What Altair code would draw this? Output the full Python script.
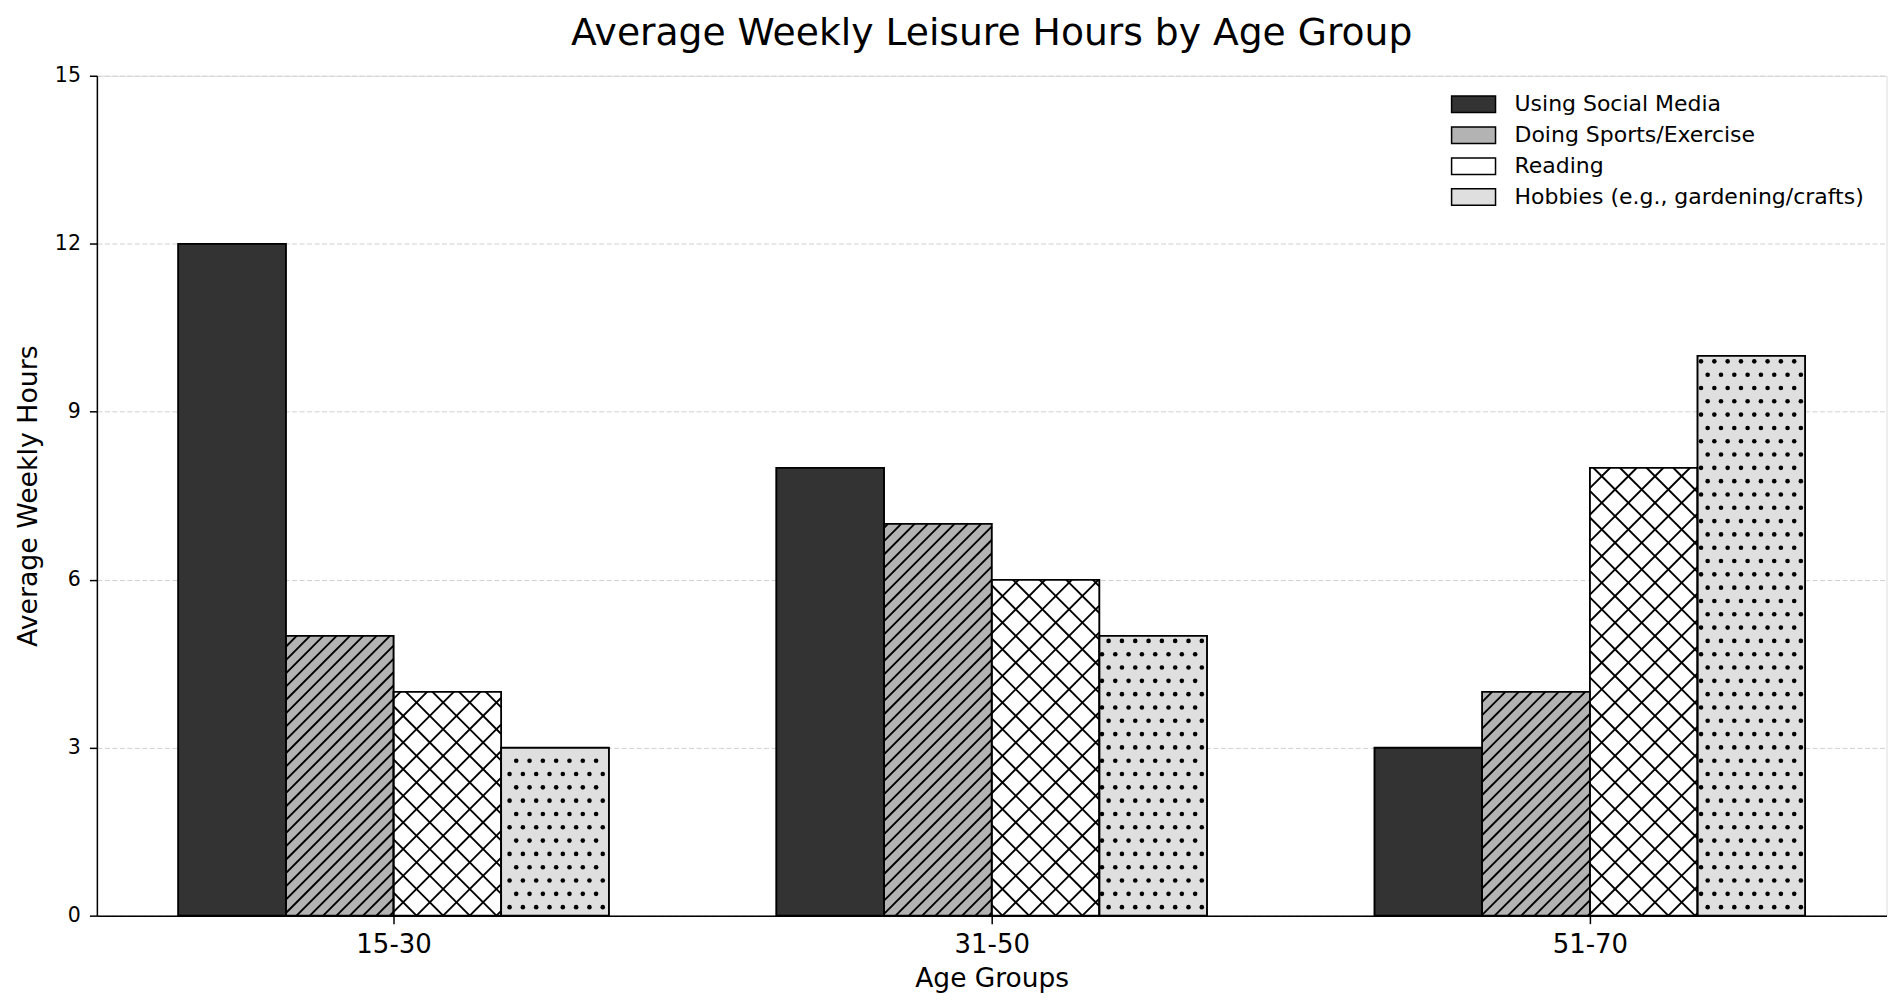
import json
import altair as alt
import pandas as pd

# ---------------- data ----------------
groups = ["15-30", "31-50", "51-70"]
series_names = [
    "Using Social Media",
    "Doing Sports/Exercise",
    "Reading",
    "Hobbies (e.g., gardening/crafts)",
]
social_media = [12, 8, 3]
sports_exercise = [5, 7, 4]
reading = [4, 6, 8]
hobbies = [3, 5, 10]
y_ticks = [0, 3, 6, 9, 12, 15]

fills = ["#333333", "#b3b3b3", "#ffffff", "#dfdfdf"]

rows = []
for si, (name, vals) in enumerate(
    zip(series_names, [social_media, sports_exercise, reading, hobbies])
):
    for gi, (g, v) in enumerate(zip(groups, vals)):
        rows.append({"group": g, "gi": gi, "series": name, "si": si, "value": v})
df = pd.DataFrame(rows)

# ---------------- layout ----------------
W, H = 1792, 841
BW = 0.18
XMIN, XMAX = -0.496, 2.496
YMAX = 15
KX = W / (XMAX - XMIN)
KY = H / YMAX
FONT = "DejaVu Sans"
XTITLE = "Age Groups"
YTITLE = "Average Weekly Hours"
HATCH_W = 1.9

xscale = alt.Scale(domain=[XMIN, XMAX], nice=False, zero=False)
yscale = alt.Scale(domain=[0, YMAX], nice=False, zero=True)

label_expr = json.dumps(groups) + "[datum.value]"

xaxis = alt.Axis(
    values=[0, 1, 2], labelExpr=label_expr, grid=False,
    tickSize=8, tickWidth=1.5, tickColor="black",
    domainColor="black", domainWidth=1.5,
    labelFontSize=26, labelFont=FONT, labelColor="black", labelPadding=7.5,
    titleFontSize=26.5, titleFont=FONT, titleColor="black", titleFontWeight="normal",
    titlePadding=8.5,
)
yaxis = alt.Axis(
    values=y_ticks, format="d", grid=True, gridDash=[5, 2.5], gridColor="#d0d0d0",
    gridWidth=1,
    tickSize=7.5, tickWidth=1.5, tickColor="black",
    domainColor="black", domainWidth=1.5,
    labelFontSize=20.5, labelFont=FONT, labelColor="black", labelPadding=9,
    titleFontSize=26.8, titleFont=FONT, titleColor="black", titleFontWeight="normal",
    titlePadding=12,
)

base = (
    alt.Chart(df)
    .transform_calculate(xc=f"datum.gi + (datum.si - 1.5) * {BW}")
    .transform_calculate(x0=f"datum.xc - {BW / 2}")
    .transform_calculate(x1=f"datum.xc + {BW / 2}")
)

legend = alt.Legend(
    orient="none", legendX=1364, legendY=14, title=None,
    symbolType="M-1.6,-0.6H1.6V0.6H-1.6Z", symbolSize=756,
    symbolStrokeColor="black", symbolStrokeWidth=1.5,
    labelFontSize=22, labelFont=FONT, labelColor="black", labelOffset=26.5,
    labelLimit=600, rowPadding=5, padding=0,
)

bars = base.mark_bar(stroke="black", strokeWidth=1.5).encode(
    x=alt.X("x0:Q", scale=xscale, axis=xaxis, title=XTITLE),
    x2="x1:Q",
    y=alt.Y("value:Q", scale=yscale, axis=yaxis, title=YTITLE),
    y2=alt.datum(0),
    fill=alt.Fill(
        "series:N",
        scale=alt.Scale(domain=series_names, range=fills),
        sort=series_names,
        legend=legend,
    ),
)


def pixel_frame(chart, name):
    return (
        chart.transform_filter(alt.datum.series == name)
        .transform_calculate(px0=f"(datum.x0 - ({XMIN})) * {KX}")
        .transform_calculate(px1=f"(datum.x1 - ({XMIN})) * {KX}")
        .transform_calculate(pv=f"datum.value * {KY}")
    )


def rule_layer(chart):
    return (
        chart.transform_calculate(hx=f"datum.sa / {KX} + ({XMIN})")
        .transform_calculate(hx2=f"datum.sb / {KX} + ({XMIN})")
        .mark_rule(color="black", strokeWidth=HATCH_W)
        .encode(
            x=alt.X("hx:Q", scale=xscale, title=XTITLE),
            x2="hx2:Q",
            y=alt.Y("hy:Q", scale=yscale, title=YTITLE),
            y2="hy2:Q",
        )
    )


def ne_hatch(name, d):
    c = (
        pixel_frame(base, name)
        .transform_calculate(
            k=f"sequence(floor(-datum.px1 / {d}), ceil((datum.pv - datum.px0) / {d}) + 1)"
        )
        .transform_flatten(["k"])
        .transform_calculate(c=f"datum.k * {d}")
        .transform_calculate(sa="max(datum.px0, -datum.c)")
        .transform_calculate(sb="min(datum.px1, datum.pv - datum.c)")
        .transform_filter("datum.sb > datum.sa + 0.5")
        .transform_calculate(hy=f"(datum.sa + datum.c) / {KY}")
        .transform_calculate(hy2=f"(datum.sb + datum.c) / {KY}")
    )
    return rule_layer(c)


def nw_hatch(name, d):
    c = (
        pixel_frame(base, name)
        .transform_calculate(
            k=f"sequence(floor(datum.px0 / {d}), ceil((datum.px1 + datum.pv) / {d}) + 1)"
        )
        .transform_flatten(["k"])
        .transform_calculate(c=f"datum.k * {d}")
        .transform_calculate(sa="max(datum.px0, datum.c - datum.pv)")
        .transform_calculate(sb="min(datum.px1, datum.c)")
        .transform_filter("datum.sb > datum.sa + 0.5")
        .transform_calculate(hy=f"(datum.c - datum.sa) / {KY}")
        .transform_calculate(hy2=f"(datum.c - datum.sb) / {KY}")
    )
    return rule_layer(c)


def dot_hatch(name, dx, dy):
    c = (
        pixel_frame(base, name)
        .transform_calculate(j=f"sequence(0, ceil(datum.pv / {dy}) + 1)")
        .transform_flatten(["j"])
        .transform_calculate(py=f"datum.j * {dy} + 8.5")
        .transform_filter("datum.py < datum.pv - 3")
        .transform_calculate(s=f"(datum.j % 2) * {dx / 2}")
        .transform_calculate(
            i=f"sequence(floor((datum.px0 - datum.s) / {dx}), ceil((datum.px1 - datum.s) / {dx}) + 1)"
        )
        .transform_flatten(["i"])
        .transform_calculate(pxd=f"datum.i * {dx} + datum.s")
        .transform_filter("datum.pxd > datum.px0 + 2.5 && datum.pxd < datum.px1 - 2.5")
        .transform_calculate(dxv=f"datum.pxd / {KX} + ({XMIN})")
        .transform_calculate(dyv=f"datum.py / {KY}")
    )
    return c.mark_circle(size=21, color="black", opacity=1).encode(
        x=alt.X("dxv:Q", scale=xscale, title=XTITLE),
        y=alt.Y("dyv:Q", scale=yscale, title=YTITLE),
    )


sports_hatch = ne_hatch(series_names[1], 13.33)
reading_ne = ne_hatch(series_names[2], 26.67)
reading_nw = nw_hatch(series_names[2], 26.67)
hobby_dots = dot_hatch(series_names[3], 13.33, 13.33)

outlines = base.mark_bar(fillOpacity=0, stroke="black", strokeWidth=1.6).encode(
    x=alt.X("x0:Q", scale=xscale, title=XTITLE),
    x2="x1:Q",
    y=alt.Y("value:Q", scale=yscale, title=YTITLE),
    y2=alt.datum(0),
)

chart = (
    alt.layer(bars, sports_hatch, reading_ne, reading_nw, hobby_dots, outlines)
    .properties(
        width=W,
        height=H,
        padding={"left": 7, "top": 6.2, "right": 9.5, "bottom": 5},
        title=alt.TitleParams(
            text="Average Weekly Leisure Hours by Age Group",
            fontSize=37.7, font=FONT, fontWeight="normal", color="black",
            anchor="middle", offset=13,
        ),
    )
    .configure_view(stroke="black", strokeWidth=1.5)
    .configure(font=FONT, background="white")
)

chart.save("out.html", embed_options={"renderer": "svg", "actions": False})
